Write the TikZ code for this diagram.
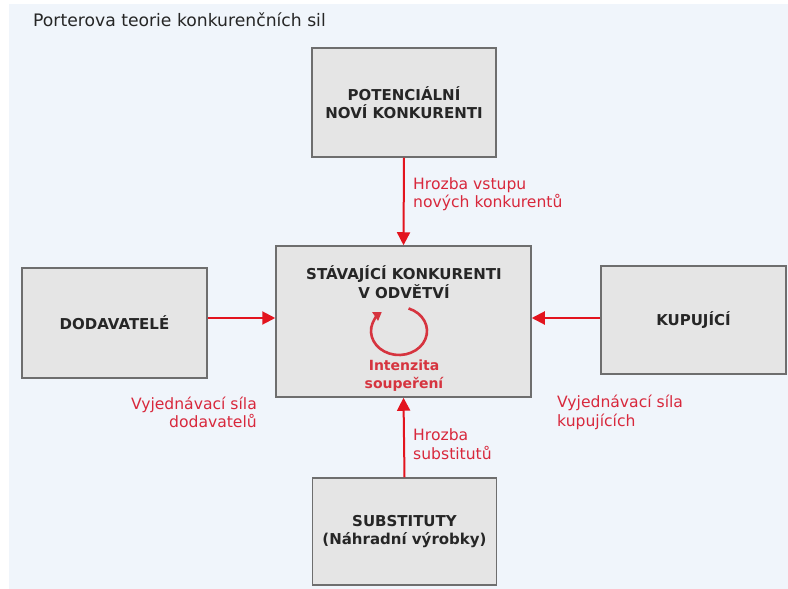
\documentclass[tikz,border=0pt]{standalone}
\usepackage{fontspec}
\setmainfont{DejaVu Sans}
\usetikzlibrary{arrows.meta}
\definecolor{bg}{HTML}{F0F5FB}
\definecolor{boxfill}{HTML}{E5E5E5}
\definecolor{boxline}{HTML}{6E6E6E}
\definecolor{arrred}{HTML}{E3141E}
\definecolor{labred}{HTML}{D8283C}
\definecolor{rotred}{HTML}{D6343F}
\tikzset{
  forcebox/.style={draw=boxline, fill=boxfill, line width=1.5pt, inner sep=0pt,
    align=center, text=black!85, font=\fontsize{15}{18.5}\selectfont\bfseries},
  boxtext/.style={inner sep=0pt, align=center, text=black!85, font=\fontsize{15}{19}\selectfont\bfseries},
  force/.style={draw=arrred, line width=2pt, -{Triangle[width=13pt,length=13pt]}},
  lab/.style={inner sep=0pt, text=labred, font=\fontsize{15.6}{18.5}\selectfont},
}
\begin{document}
\begin{tikzpicture}[x=1pt,y=-1pt]
\fill[white] (0,0) rectangle (788,589);
\fill[bg] (9,4) rectangle (788,589);
\useasboundingbox (0,0) rectangle (788,589);

\node[anchor=west, inner sep=0pt, text=black!85, font=\fontsize{17.2}{20}\selectfont] (title) at (33,20) {Porterova teorie konkurenčních sil};

\node[forcebox, minimum width=184pt, minimum height=109pt] (pot) at (404,102.5) {POTENCIÁLNÍ\\NOVÍ KONKURENTI};
\node[forcebox, minimum width=255pt, minimum height=151pt] (stav) at (403.5,321.5) {};
\node[boxtext] (stavt) at (404,282) {STÁVAJÍCÍ KONKURENTI\\V ODVĚTVÍ};
\node[forcebox, minimum width=185pt, minimum height=110pt] (dod) at (114.5,323) {DODAVATELÉ};
\node[forcebox, minimum width=185pt, minimum height=108pt] (kup) at (693.5,320) {KUPUJÍCÍ};
\node[forcebox, minimum width=184pt, minimum height=107pt] (sub) at (404.5,531.5) {SUBSTITUTY\\(Náhradní výrobky)};

\node[inner sep=0pt, align=center, text=rotred, font=\fontsize{14}{18}\selectfont\bfseries] (int) at (404,376) {Intenzita\\soupeření};

\coordinate (rot) at (399,331);
\draw[draw=rotred, line width=2.6pt, -{Triangle[width=10pt,length=8pt]}]
  ([shift={(70:28pt and 24pt)}]rot) arc[start angle=70, end angle=-232, x radius=28pt, y radius=24pt];

\draw[force] (pot.south) -- (stav.north);
\draw[force] (sub.north) -- (stav.south);
\draw[force] ([yshift=5pt]dod.east) -- ([yshift=5pt]dod.east -| stav.west);
\draw[force] ([yshift=2pt]kup.west) -- ([yshift=2pt]kup.west -| stav.east);

\node[lab, anchor=west, align=left] (lpot) at (413,194) {Hrozba vstupu\\nových konkurentů};
\node[lab, anchor=west, align=left] (lsub) at (413,444) {Hrozba\\substitutů};
\node[lab, anchor=east, align=right] (ldod) at (257,412.5) {Vyjednávací síla\\dodavatelů};
\node[lab, anchor=west, align=left] (lkup) at (557,412.5) {Vyjednávací síla\\kupujících};
\end{tikzpicture}
\end{document}
